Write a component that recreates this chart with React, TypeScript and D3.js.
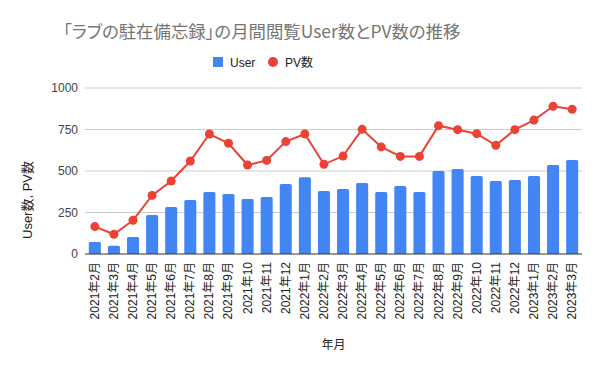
import { useEffect, useRef } from 'react';
import * as d3 from 'd3';

const months = [
  '2021年2月', '2021年3月', '2021年4月', '2021年5月', '2021年6月', '2021年7月',
  '2021年8月', '2021年9月', '2021年10', '2021年11', '2021年12', '2022年1月',
  '2022年2月', '2022年3月', '2022年4月', '2022年5月', '2022年6月', '2022年7月',
  '2022年8月', '2022年9月', '2022年10', '2022年11', '2022年12', '2023年1月',
  '2023年2月', '2023年3月',
];
const users = [
  72, 50, 102, 235, 283, 325, 373, 361, 331, 343, 422, 462,
  380, 392, 428, 373, 410, 373, 500, 512, 470, 440, 446, 470, 536, 566,
];
const pvs = [
  165, 119, 203, 353, 440, 560, 723, 667, 536, 564, 677, 723,
  540, 590, 751, 645, 588, 588, 773, 749, 725, 655, 749, 807, 890, 872,
];
const yTicks = [0, 250, 500, 750, 1000];

export default function App() {
  const ref = useRef<SVGSVGElement | null>(null);

  useEffect(() => {
    const svg = d3.select(ref.current);
    svg.selectAll('*').remove();
    const font = '"Liberation Sans", Arial, "Noto Sans CJK JP", sans-serif';

    const left = 85, right = 582, top = 88, bottom = 254;

    const x = d3.scaleBand<string>().domain(months).range([left, right]).paddingInner(0.37).paddingOuter(0.2);
    const y = d3.scaleLinear().domain([0, 1000]).range([bottom, top]);

    svg.append('rect').attr('width', 600).attr('height', 371).attr('fill', '#fff');

    // title
    svg.append('text')
      .attr('x', 63).attr('y', 38)
      .attr('font-family', '"Noto Sans CJK JP", sans-serif').attr('font-size', 17.4)
      .style('font-feature-settings', '"palt"')
      .attr('fill', '#757575')
      .text('「ラブの駐在備忘録」の月間閲覧User数とPV数の推移');

    // legend
    const lg = svg.append('g').attr('font-family', font).attr('font-size', 12).attr('fill', '#222');
    lg.append('rect').attr('x', 213).attr('y', 57).attr('width', 10).attr('height', 10).attr('fill', '#4285f4');
    lg.append('text').attr('x', 230).attr('y', 66.5).text('User');
    lg.append('circle').attr('cx', 273).attr('cy', 62).attr('r', 5).attr('fill', '#ea4335');
    lg.append('text').attr('x', 285).attr('y', 66.5).text('PV数');

    // grid
    svg.append('g').selectAll('line').data(yTicks.filter(t => t > 0)).join('line')
      .attr('x1', left).attr('x2', right)
      .attr('y1', d => y(d)).attr('y2', d => y(d))
      .attr('stroke', '#cccccc').attr('stroke-width', 1);

    svg.append('g').selectAll('text').data(yTicks).join('text')
      .attr('x', 78).attr('y', d => y(d) + 4)
      .attr('text-anchor', 'end')
      .attr('font-family', font).attr('font-size', 12).attr('fill', '#444')
      .text(d => d);

    // bars
    svg.append('g').selectAll('path').data(users).join('path')
      .attr('fill', '#4285f4')
      .attr('d', (d, i) => {
        const bx = x(months[i])!;
        const w = x.bandwidth();
        const ty = y(d);
        const r = 1.5;
        return `M${bx},${bottom}V${ty + r}Q${bx},${ty} ${bx + r},${ty}H${bx + w - r}Q${bx + w},${ty} ${bx + w},${ty + r}V${bottom}Z`;
      });

    // baseline
    svg.append('line')
      .attr('x1', left).attr('x2', right).attr('y1', bottom).attr('y2', bottom)
      .attr('stroke', '#333').attr('stroke-width', 1);

    // PV line
    const cx = (i: number) => x(months[i])! + x.bandwidth() / 2;
    const line = d3.line<number>().x((_, i) => cx(i)).y(d => y(d));
    svg.append('path').datum(pvs)
      .attr('d', line)
      .attr('fill', 'none').attr('stroke', '#ea4335').attr('stroke-width', 2);
    svg.append('g').selectAll('circle').data(pvs).join('circle')
      .attr('cx', (_, i) => cx(i)).attr('cy', d => y(d)).attr('r', 4.5)
      .attr('fill', '#ea4335');

    // x labels
    svg.append('g').selectAll('text').data(months).join('text')
      .attr('transform', d => `translate(${x(d)! + x.bandwidth() / 2 + 4},262) rotate(-90)`)
      .attr('text-anchor', 'end')
      .attr('font-family', font).attr('font-size', 12).attr('fill', '#222')
      .text(d => d);

    // axis titles
    svg.append('text')
      .attr('x', (left + right) / 2).attr('y', 349)
      .attr('text-anchor', 'middle')
      .attr('font-family', font).attr('font-size', 12).attr('fill', '#222')
      .text('年月');
    svg.append('text')
      .attr('transform', 'translate(32,200) rotate(-90)')
      .attr('text-anchor', 'middle')
      .attr('font-family', font).attr('font-size', 13).attr('fill', '#222')
      .text('User数, PV数');
  }, []);

  return (
    <svg ref={ref} width={600} height={371} style={{ position: 'absolute', left: 0, top: 0 }} />
  );
}
